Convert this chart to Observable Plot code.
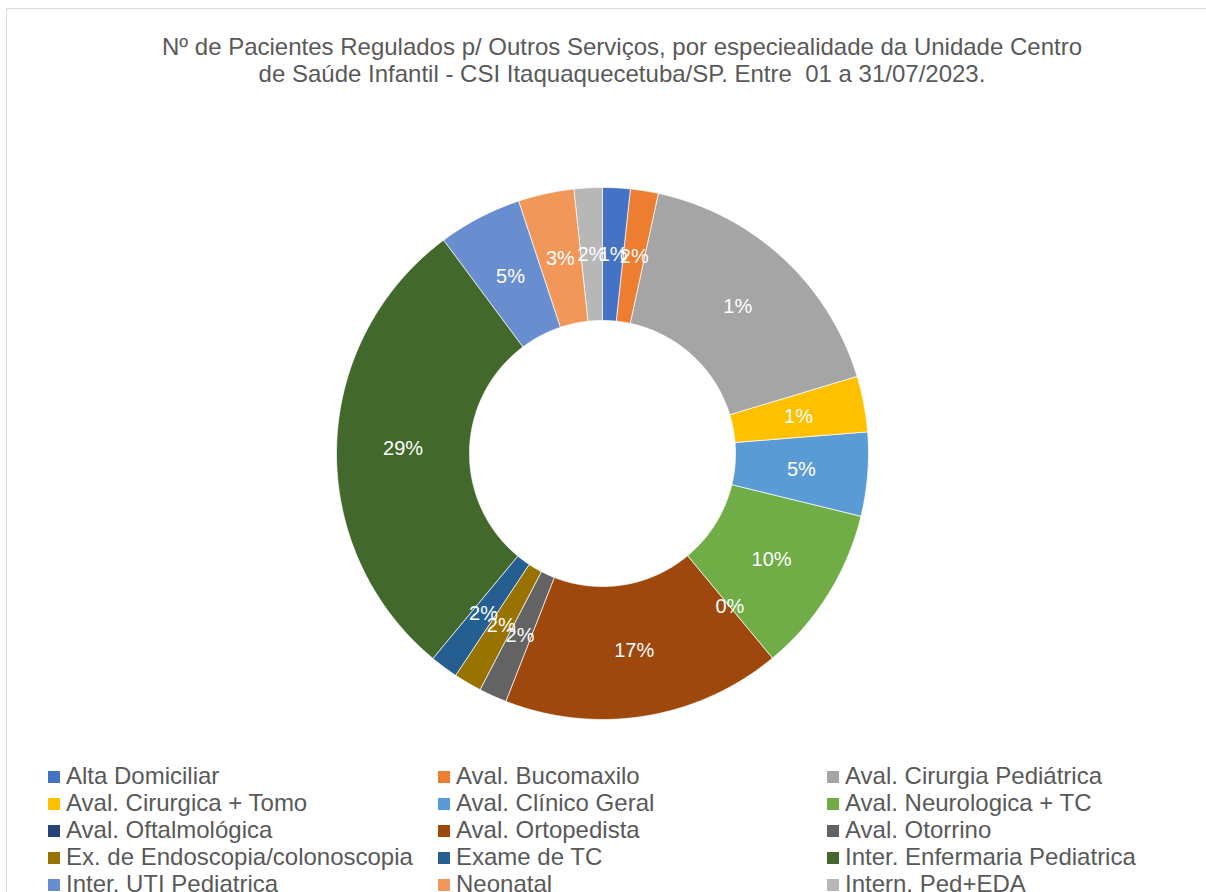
<!DOCTYPE html>
<html>
<head>
<meta charset="utf-8">
<script src="https://cdn.jsdelivr.net/npm/d3@7"></script>
<script src="https://cdn.jsdelivr.net/npm/@observablehq/plot@0.6"></script>
<style>
  html, body { margin: 0; padding: 0; background: #fff; }
  #wrap { position: relative; width: 1206px; height: 892px; overflow: hidden; font-family: "Liberation Sans", Arial, sans-serif; }
  #frame { position: absolute; left: 6px; top: 8px; width: 1300px; height: 1000px; border-left: 1px solid #d9d9d9; border-top: 1px solid #d9d9d9; }
  #title { position: absolute; left: 0; width: 1244px; top: 33px; text-align: center; color: #595959; font-size: 24px; line-height: 27px; }
  #chart { position: absolute; left: 0; top: 173px; }
  #legend { position: absolute; left: 48px; top: 762px; }
  .item { position: absolute; white-space: nowrap; color: #595959; font-size: 24px; line-height: 27px; }
  .sw { display: inline-block; width: 12px; height: 12px; margin-right: 6px; vertical-align: 1px; }
</style>
</head>
<body>
<div id="wrap">
  <div id="frame"></div>
  <div id="title">Nº de Pacientes Regulados p/ Outros Serviços, por especiealidade da Unidade Centro<br>de Saúde Infantil - CSI Itaquaquecetuba/SP. Entre&nbsp; 01 a 31/07/2023.</div>
  <div id="chart"></div>
  <div id="legend"></div>
</div>
<script>
const categories = [
  "Alta Domiciliar", "Aval. Bucomaxilo", "Aval. Cirurgia Pediátrica",
  "Aval. Cirurgica + Tomo", "Aval. Clínico Geral", "Aval. Neurologica + TC",
  "Aval. Oftalmológica", "Aval. Ortopedista", "Aval. Otorrino",
  "Ex. de Endoscopia/colonoscopia", "Exame de TC", "Inter. Enfermaria Pediatrica",
  "Inter. UTI Pediatrica", "Neonatal", "Intern. Ped+EDA"
];
const patients = [1, 1, 10, 2, 3, 6, 0, 10, 1, 1, 1, 17, 3, 2, 1];
const pctLabels = ["1%", "2%", "1%", "1%", "5%", "10%", "0%", "17%", "2%", "2%", "2%", "29%", "5%", "3%", "2%"];
const colors = [
  "#4472C4", "#ED7D31", "#A5A5A5", "#FFC000", "#5B9BD5", "#70AD47",
  "#264478", "#9E480E", "#636363", "#997300", "#255E91", "#43682B",
  "#698ED0", "#F1975A", "#B7B7B7"
];

const INNER = 0.5, OUTER = 1, LABEL_R = 0.75;
const arcs = d3.pie().sort(null).value(d => d)(patients);

// polygon vertices for each slice, derived from the pie layout
const verts = [];
arcs.forEach((a, i) => {
  if (a.endAngle - a.startAngle <= 0) return;
  const n = Math.max(4, Math.ceil((a.endAngle - a.startAngle) / 0.01));
  for (let k = 0; k <= n; k++) {
    const t = a.startAngle + (a.endAngle - a.startAngle) * k / n;
    verts.push({cat: categories[i], x: OUTER * Math.sin(t), y: OUTER * Math.cos(t)});
  }
  for (let k = n; k >= 0; k--) {
    const t = a.startAngle + (a.endAngle - a.startAngle) * k / n;
    verts.push({cat: categories[i], x: INNER * Math.sin(t), y: INNER * Math.cos(t)});
  }
});
const labels = arcs.map((a, i) => {
  const m = (a.startAngle + a.endAngle) / 2;
  return {text: pctLabels[i], x: LABEL_R * Math.sin(m), y: LABEL_R * Math.cos(m)};
});

const R = 266, CX = 602, CY = 280;
const plot = Plot.plot({
  width: 1206,
  height: 560,
  margin: 0,
  x: {domain: [-1, 1], range: [CX - R, CX + R], axis: null},
  y: {domain: [-1, 1], range: [CY + R, CY - R], axis: null},
  color: {domain: categories, range: colors},
  marks: [
    Plot.line(verts, {x: "x", y: "y", z: "cat", fill: "cat", stroke: "#ffffff", strokeWidth: 0.7, curve: "linear-closed"}),
    Plot.text(labels, {x: "x", y: "y", text: "text", fill: "#ffffff", fontSize: 20, fontFamily: "Liberation Sans, Arial, sans-serif"})
  ]
});
document.getElementById("chart").appendChild(plot);

const colX = [0, 390, 779];
const legend = document.getElementById("legend");
categories.forEach((c, i) => {
  const el = document.createElement("div");
  el.className = "item";
  el.style.left = colX[i % 3] + "px";
  el.style.top = (Math.floor(i / 3) * 27) + "px";
  el.innerHTML = `<span class="sw" style="background:${colors[i]}"></span>${c}`;
  legend.appendChild(el);
});
</script>
</body>
</html>
